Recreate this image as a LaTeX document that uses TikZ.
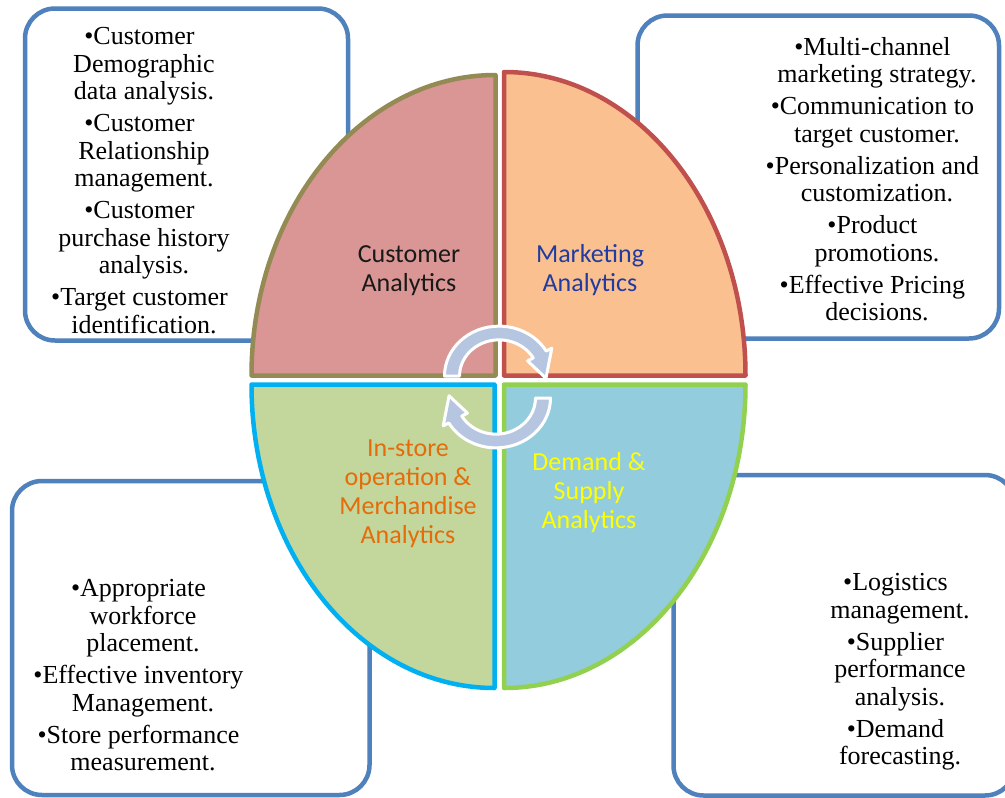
\documentclass[tikz,border=0pt]{standalone}
\usepackage{fontspec}
\setmainfont{Liberation Serif}
\newfontfamily\listfont{Liberation Serif}
\newfontfamily\labelfont{Carlito}
\definecolor{boxblue}{RGB}{79,129,189}
\definecolor{olivelin}{RGB}{148,138,84}
\definecolor{rosefill}{RGB}{217,150,148}
\definecolor{redlin}{RGB}{192,80,77}
\definecolor{peachfill}{RGB}{250,192,144}
\definecolor{cyanlin}{RGB}{0,176,240}
\definecolor{sagefill}{RGB}{195,214,155}
\definecolor{greenlin}{RGB}{146,208,80}
\definecolor{skyfill}{RGB}{147,205,221}
\definecolor{arrowfill}{RGB}{182,198,224}
\definecolor{mktblue}{RGB}{32,60,160}
\definecolor{instorange}{RGB}{228,108,10}
\definecolor{labyellow}{RGB}{255,255,0}
\begin{document}
\begin{tikzpicture}[x=1pt,y=-1pt,
  infobox/.style={draw=boxblue,line width=4.5pt,fill=white,rounded corners=30pt},
  boxtext/.style={inner sep=0pt,align=center,font=\listfont\fontsize{26}{27.5}\selectfont},
  quadrant/.style={line width=4.5pt,line join=round},
  lab/.style={inner sep=0pt,align=center,font=\labelfont\fontsize{26}{29}\selectfont},
  cyclearrow/.style={fill=arrowfill,draw=white,line width=3pt,line join=round}
]
\useasboundingbox (0,0) rectangle (1005,798);
\clip (0,0) rectangle (1005,798);
\fill[white] (0,0) rectangle (1005,798);

% information boxes (behind the ellipse)
\draw[infobox] (25,8.5) rectangle (348,340.5);
\draw[infobox] (637.5,15.5) rectangle (999,338.5);
\draw[infobox] (12,481) rectangle (369.5,795);
\draw[infobox] (673.5,475) rectangle (1015,795.5);

\newcommand{\bl}{\llap{\textbullet}}
\node[boxtext] (custlist) at (144,180.5)
  {\bl Customer\\Demographic\\data analysis.\\[4.5pt]
   \bl Customer\\Relationship\\management.\\[4.5pt]
   \bl Customer\\purchase history\\analysis.\\[4.5pt]
   \bl Target customer\\identification.};
\node[boxtext] (mktlist) at (877,179)
  {\bl Multi-channel\\marketing strategy.\\[4.5pt]
   \bl Communication to\\target customer.\\[4.5pt]
   \bl Personalization and\\customization.\\[4.5pt]
   \bl Product\\promotions.\\[4.5pt]
   \bl Effective Pricing\\decisions.};
\node[boxtext] (storelist) at (143,675.5)
  {\bl Appropriate\\workforce\\placement.\\[4.5pt]
   \bl Effective inventory\\Management.\\[4.5pt]
   \bl Store performance\\measurement.};
\node[boxtext] (supplylist) at (900,672)
  {\bl Logistics\\management.\\[4.5pt]
   \bl Supplier\\performance\\analysis.\\[4.5pt]
   \bl Demand\\forecasting.};

% four quarters of the ellipse
\filldraw[quadrant,fill=rosefill,draw=olivelin]
  (495.5,375.5) -- (251.5,375.5) arc[start angle=180,end angle=270,x radius=244,y radius=300.5] -- cycle;
\filldraw[quadrant,fill=peachfill,draw=redlin]
  (504,375.5) -- (504,72) arc[start angle=270,end angle=360,x radius=241.5,y radius=303.5] -- cycle;
\filldraw[quadrant,fill=sagefill,draw=cyanlin]
  (494.5,384.5) -- (494.5,688) arc[start angle=90,end angle=180,x radius=243,y radius=303.5] -- cycle;
\filldraw[quadrant,fill=skyfill,draw=greenlin]
  (504,384.5) -- (745.5,384.5) arc[start angle=0,end angle=90,x radius=241.5,y radius=303.5] -- cycle;

% quadrant titles
\node[lab,text=black!90] (cust) at (409,271) {Customer\\Analytics};
\node[lab,text=mktblue] (mkt) at (590,270) {Marketing\\Analytics};
\node[lab,text=instorange] (inst) at (408,493.5) {In-store\\operation \&\\Merchandise\\Analytics};
\node[lab,text=labyellow] (dem) at (589,493) {Demand \&\\Supply\\Analytics};

% circular arrows in the middle
\begin{scope}[shift={(499,376)},yscale=0.915]
  \draw[cyclearrow] (180:54.5) arc[start angle=180,end angle=330,radius=54.5]
    -- (330:61) -- (3:47) -- (330:33) -- (330:39.5)
    arc[start angle=330,end angle=180,radius=39.5] -- cycle;
\end{scope}
\begin{scope}[shift={(496,398)},rotate=180,yscale=0.915]
  \draw[cyclearrow] (180:54.5) arc[start angle=180,end angle=330,radius=54.5]
    -- (330:61) -- (3:47) -- (330:33) -- (330:39.5)
    arc[start angle=330,end angle=180,radius=39.5] -- cycle;
\end{scope}
\end{tikzpicture}
\end{document}
